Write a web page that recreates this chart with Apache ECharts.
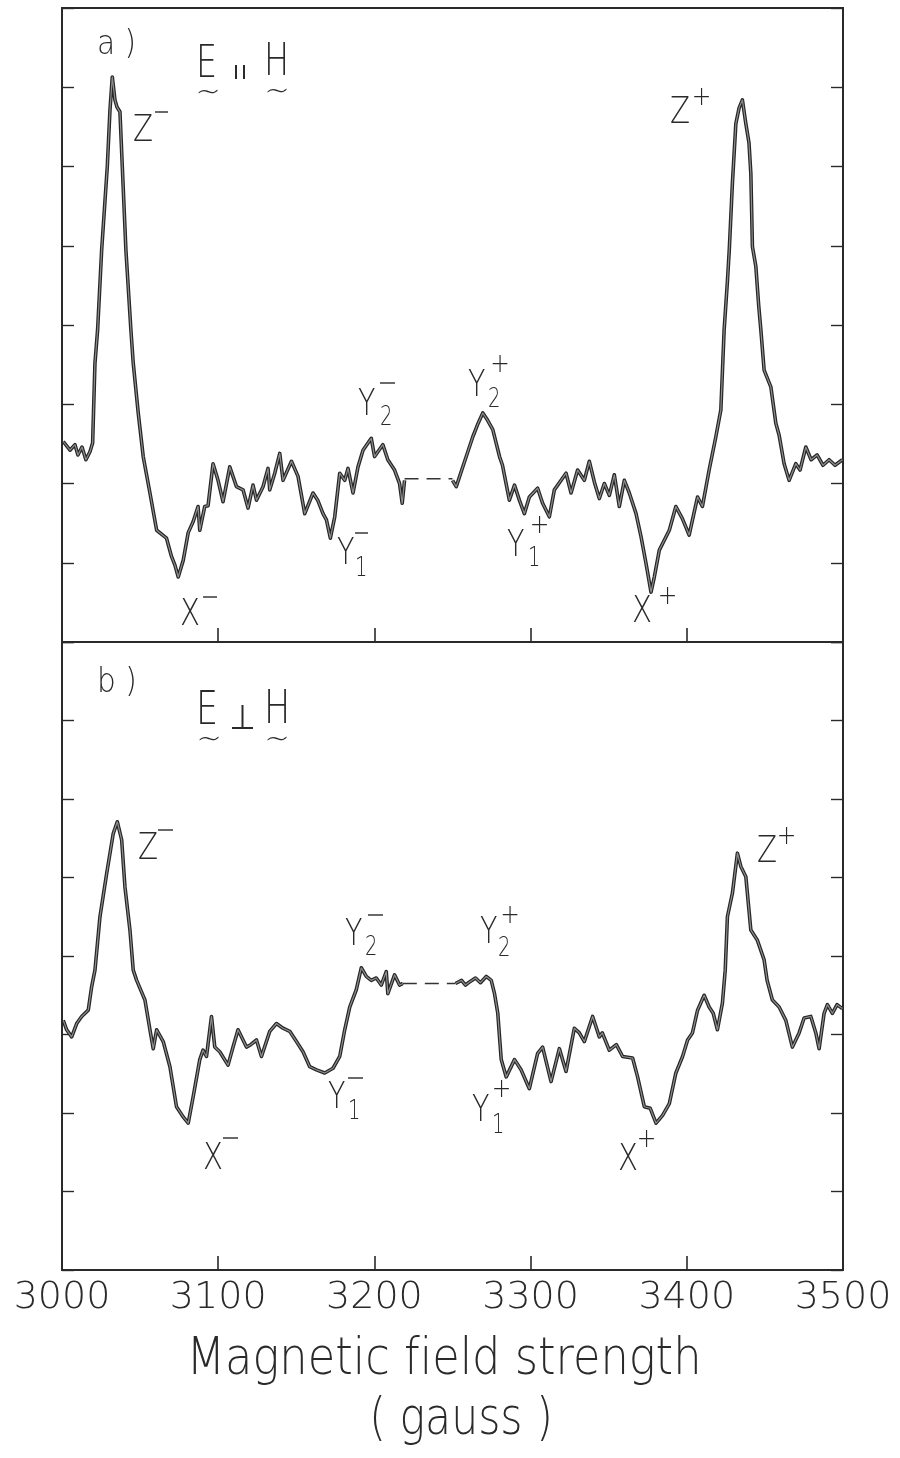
<!DOCTYPE html>
<html>
<head>
<meta charset="utf-8">
<script src="https://cdn.jsdelivr.net/npm/echarts@6/dist/echarts.min.js"></script>
<style>
  html, body { margin: 0; padding: 0; background: #fff; }
  #chart { width: 900px; height: 1458px; }
</style>
</head>
<body>
<div id="chart"></div>
<script>
// Field axis (gauss) tick labels
const fieldTicks = [3000, 3100, 3200, 3300, 3400, 3500];

// a) E parallel H : signal in tick units, low-field half
const panelA_low = [
  [3000.8,2.53],[3005.1,2.42],[3008.3,2.49],[3010.2,2.36],[3012.8,2.46],[3015.3,2.30],[3017.9,2.40],[3019.6,2.51],
  [3021.1,3.52],[3022.8,3.94],[3025.4,4.95],[3029.0,6.00],[3030.7,6.71],[3032.2,7.13],[3033.9,6.84],[3035.2,6.75],
  [3037.1,6.69],[3038.6,6.00],[3040.9,4.95],[3044.1,3.94],[3045.6,3.52],[3048.8,2.89],[3052.0,2.34],[3056.3,1.88],
  [3060.6,1.41],[3066.9,1.31],[3070.1,1.08],[3072.3,0.97],[3074.4,0.82],[3077.6,1.03],[3080.8,1.38],[3084.0,1.52],
  [3087.1,1.71],[3088.2,1.41],[3091.4,1.71],[3093.5,1.72],[3096.7,2.25],[3099.9,2.04],[3103.1,1.77],[3107.4,2.21],
  [3111.7,1.96],[3115.9,1.92],[3119.1,1.69],[3122.3,1.98],[3124.5,1.79],[3128.7,1.96],[3131.9,2.19],[3133.0,1.92],
  [3136.2,2.13],[3139.4,2.38],[3141.5,2.04],[3146.9,2.28],[3151.1,2.09],[3155.4,1.62],[3160.7,1.88],[3163.7,1.79],
  [3167.1,1.62],[3169.3,1.54],[3171.8,1.31],[3174.6,1.58],[3177.8,2.13],[3181.0,2.04],[3183.1,2.19],[3186.3,1.88],
  [3189.5,2.21],[3192.7,2.42],[3198.0,2.57],[3200.1,2.34],[3205.4,2.49],[3208.6,2.30],[3212.9,2.17],[3216.1,2.00],
  [3217.8,1.75],[3219.3,2.04]
];
// a) unrecorded stretch, drawn dashed
const panelA_gap = [[3219.3,2.06],[3250.0,2.06]];
// a) high-field half
const panelA_high = [
  [3250.0,2.04],[3252.4,1.96],[3258.8,2.34],[3263.0,2.59],[3266.0,2.74],[3269.4,2.89],[3272.4,2.80],[3275.8,2.68],
  [3280.1,2.34],[3282.0,2.23],[3283.9,2.04],[3286.4,1.79],[3289.7,1.98],[3292.8,1.79],[3296.0,1.62],[3299.2,1.83],
  [3304.5,1.94],[3307.7,1.75],[3312.0,1.58],[3315.2,1.92],[3322.7,2.13],[3325.9,1.88],[3330.1,2.17],[3334.4,2.04],
  [3337.6,2.28],[3340.8,2.02],[3344.0,1.81],[3347.2,2.00],[3350.4,1.85],[3353.6,2.11],[3356.8,1.71],[3360.0,2.04],
  [3363.2,1.88],[3367.5,1.62],[3370.7,1.33],[3373.9,0.99],[3377.1,0.63],[3379.2,0.82],[3382.4,1.16],[3388.8,1.41],
  [3393.0,1.71],[3397.1,1.56],[3401.5,1.35],[3406.9,1.83],[3410.0,1.71],[3414.3,2.17],[3418.6,2.59],[3421.8,2.93],
  [3423.9,3.94],[3426.0,4.55],[3427.2,4.95],[3429.2,5.79],[3431.4,6.54],[3433.5,6.74],[3435.6,6.84],[3437.8,6.54],
  [3439.8,6.30],[3441.0,5.91],[3442.0,4.99],[3444.2,4.74],[3446.0,4.25],[3447.4,3.94],[3449.5,3.43],[3453.8,3.22],
  [3457.0,2.76],[3459.1,2.61],[3462.3,2.25],[3465.5,2.04],[3469.8,2.25],[3472.5,2.17],[3476.2,2.46],[3479.6,2.30],
  [3483.4,2.36],[3487.2,2.23],[3491.1,2.30],[3494.9,2.23],[3499.6,2.30]
];

// b) E perpendicular H : low-field half
const panelB_low = [
  [3000.8,3.18],[3003.0,3.06],[3006.2,2.97],[3009.4,3.14],[3012.6,3.23],[3016.8,3.31],[3019.0,3.61],[3021.1,3.82],
  [3024.3,4.50],[3028.6,5.05],[3032.8,5.56],[3035.4,5.71],[3038.2,5.48],[3040.3,4.88],[3043.5,4.33],[3045.6,3.82],
  [3047.8,3.69],[3053.1,3.44],[3056.3,3.06],[3058.4,2.82],[3060.6,3.06],[3064.8,2.91],[3069.1,2.59],[3073.3,2.08],
  [3077.6,1.95],[3080.8,1.87],[3084.0,2.21],[3088.2,2.68],[3090.3,2.80],[3092.5,2.72],[3095.7,3.23],[3097.8,2.84],
  [3101.0,2.78],[3106.3,2.61],[3109.5,2.84],[3112.7,3.06],[3118.1,2.84],[3120.8,2.87],[3124.5,2.93],[3127.7,2.72],
  [3133.0,3.04],[3137.3,3.14],[3141.5,3.08],[3145.8,3.04],[3150.1,2.91],[3154.3,2.78],[3158.6,2.59],[3162.9,2.55],
  [3168.2,2.51],[3173.5,2.57],[3177.8,2.72],[3181.0,3.06],[3184.2,3.35],[3188.4,3.57],[3191.6,3.85],[3194.8,3.74],
  [3198.0,3.69],[3201.2,3.72],[3204.4,3.63],[3207.6,3.80],[3208.6,3.52],[3212.9,3.76],[3216.1,3.63],[3218.2,3.65]
];
const panelB_gap = [[3218.2,3.65],[3251.9,3.65]];
const panelB_high = [
  [3251.9,3.65],[3255.8,3.69],[3258.3,3.63],[3260.9,3.67],[3264.7,3.72],[3267.9,3.66],[3271.6,3.74],[3274.8,3.69],
  [3276.9,3.52],[3279.0,3.27],[3280.1,2.97],[3281.2,2.68],[3284.4,2.46],[3289.7,2.68],[3293.9,2.55],[3299.2,2.31],
  [3304.5,2.76],[3307.7,2.84],[3313.1,2.40],[3318.4,2.82],[3322.7,2.53],[3328.0,3.08],[3331.2,3.02],[3334.4,2.91],
  [3339.7,3.23],[3344.0,2.97],[3345.9,3.02],[3350.4,2.80],[3354.9,2.87],[3358.9,2.72],[3365.3,2.70],[3368.5,2.46],
  [3372.8,2.08],[3376.6,2.06],[3380.3,1.87],[3384.5,1.97],[3388.8,2.12],[3393.0,2.51],[3397.3,2.72],[3400.5,2.93],
  [3403.6,3.02],[3406.9,3.31],[3411.1,3.50],[3414.3,3.35],[3416.9,3.27],[3419.6,3.06],[3422.8,3.40],[3424.6,3.82],
  [3426.0,4.50],[3429.2,4.80],[3432.4,5.31],[3434.6,5.14],[3437.8,5.01],[3441.0,4.33],[3445.2,4.20],[3449.5,3.95],
  [3451.4,3.69],[3454.8,3.44],[3459.1,3.35],[3463.4,3.18],[3467.6,2.84],[3471.9,3.02],[3475.1,3.21],[3479.4,3.23],
  [3482.6,3.02],[3484.7,2.82],[3487.9,3.27],[3490.0,3.38],[3493.2,3.27],[3496.2,3.38],[3499.6,3.33]
];

const INK = '#2a2a2a';
const THIN_FONT = "'DejaVu Sans', 'Liberation Sans', sans-serif";

// text helpers for the annotations (thin lettering, narrowed with scaleX)
function txt(x, y, s, size, sx, align) {
  return {
    type: 'text', x: x, y: y, scaleX: sx || 1, z: 20,
    style: { text: s, fontSize: size, fontFamily: THIN_FONT, fontWeight: 200, fill: INK,
             align: align || 'left', verticalAlign: 'middle' }
  };
}
function plus(x, y) { return txt(x, y, '+', 26, 0.9, 'center'); }
function bar(x1, x2, y) {
  return { type: 'line', z: 20, shape: { x1: x1, y1: y, x2: x2, y2: y },
           style: { stroke: INK, lineWidth: 1.4 } };
}
function seg(x1, y1, x2, y2) {
  return { type: 'line', z: 20, shape: { x1: x1, y1: y1, x2: x2, y2: y2 },
           style: { stroke: INK, lineWidth: 2 } };
}

const annotations = [
  // panel tags and field orientation
  txt(97, 45, 'a )', 34, 0.87),
  txt(196, 66, 'E', 44, 0.76), txt(208, 93, '~', 30, 1, 'center'),
  seg(236, 65, 236, 79), seg(244, 65, 244, 79),
  txt(264, 64, 'H', 44, 0.76), txt(277, 92, '~', 30, 1, 'center'),
  txt(97, 683, 'b )', 34, 0.87),
  txt(196, 712, 'E', 46, 0.76), txt(209, 740, '~', 30, 1, 'center'),
  seg(242.5, 705, 242.5, 728), seg(232, 728, 253, 728),
  txt(264, 711, 'H', 46, 0.76), txt(277, 740, '~', 30, 1, 'center'),

  // a) peak labels
  txt(133, 131, 'Z', 38, 0.77), bar(155, 168, 112),
  txt(670, 113.5, 'Z', 38, 0.77), plus(701.5, 98.5),
  txt(180, 615, 'X', 38, 0.77), bar(203, 217, 597),
  txt(358, 405, 'Y', 38, 0.75), txt(380, 418, '2', 26, 0.75), bar(380, 395, 383),
  txt(337, 554, 'Y', 38, 0.75), txt(355, 569, '1', 26, 0.75), bar(355, 368, 533),
  txt(468, 386.5, 'Y', 38, 0.75), txt(488, 400, '2', 26, 0.75), plus(500, 365.5),
  txt(507, 546, 'Y', 38, 0.75), txt(528, 559, '1', 26, 0.75), plus(539.5, 526.5),
  txt(632, 612.5, 'X', 38, 0.77), plus(667.5, 597.5),

  // b) peak labels
  txt(138, 849, 'Z', 38, 0.77), bar(158, 173, 830),
  txt(757, 852.5, 'Z', 38, 0.77), plus(786.5, 837),
  txt(345, 935, 'Y', 38, 0.75), txt(365, 948.5, '2', 26, 0.75), bar(368, 383, 915),
  txt(480, 933.5, 'Y', 38, 0.75), txt(498, 949, '2', 26, 0.75), plus(510, 916.5),
  txt(203, 1159.5, 'X', 38, 0.77), bar(223, 238, 1138),
  txt(328, 1098.5, 'Y', 38, 0.75), txt(348, 1112.5, '1', 26, 0.75), bar(348, 363, 1078),
  txt(472, 1111.5, 'Y', 38, 0.75), txt(492, 1126.5, '1', 26, 0.75), plus(501.5, 1090.5),
  txt(618, 1160, 'X', 38, 0.77), plus(646.5, 1140.5),

  // field axis title (zero-width non-joiner keeps "f" and "i" apart)
  txt(444, 1360, 'Magnetic f\u200Cield strength', 52, 0.86, 'center'),
  txt(461, 1420, '( gauss )', 52, 0.82, 'center')
];

function xAxisFor(grid, withLabels) {
  return {
    gridIndex: grid, type: 'value', min: 3000, max: 3500, interval: 100,
    axisLine: { show: false },
    splitLine: { show: false },
    axisTick: { inside: true, length: 14, lineStyle: { color: INK, width: 1.6 } },
    axisLabel: withLabels ? {
      show: true, customValues: fieldTicks, margin: 9,
      fontSize: 38, fontFamily: THIN_FONT, fontWeight: 200, color: INK,
      formatter: function (v) { return String(v); }
    } : { show: false }
  };
}
function yAxisFor(grid, side) {
  return {
    gridIndex: grid, type: 'value', min: 0, max: 8, interval: 1, position: side,
    axisLine: { show: false },
    splitLine: { show: false },
    axisLabel: { show: false },
    axisTick: { inside: true, length: 12, lineStyle: { color: INK, width: 1.4 } }
  };
}
// trace drawn as a dark stroke with a lighter core, like pen ink
function trace(data, xi, yi) {
  return [
    { type: 'line', data: data, xAxisIndex: xi, yAxisIndex: yi, showSymbol: false, silent: true,
      lineStyle: { color: '#262626', width: 3.6, join: 'round' }, z: 3 },
    { type: 'line', data: data, xAxisIndex: xi, yAxisIndex: yi, showSymbol: false, silent: true,
      lineStyle: { color: '#8e8e8e', width: 1.2, join: 'round' }, z: 4 }
  ];
}
function gap(data, xi, yi) {
  return { type: 'line', data: data, xAxisIndex: xi, yAxisIndex: yi, showSymbol: false, silent: true,
           lineStyle: { color: '#333', width: 1.3, type: [14, 8] }, z: 3 };
}

const chart = echarts.init(document.getElementById('chart'), null, { renderer: 'canvas' });
chart.setOption({
  animation: false,
  backgroundColor: '#ffffff',
  grid: [
    { left: 62, top: 8, width: 781, height: 634, show: true, borderColor: INK, borderWidth: 2 },
    { left: 62, top: 642, width: 781, height: 628, show: true, borderColor: INK, borderWidth: 2 }
  ],
  xAxis: [xAxisFor(0, false), xAxisFor(1, true)],
  yAxis: [yAxisFor(0, 'left'), yAxisFor(0, 'right'), yAxisFor(1, 'left'), yAxisFor(1, 'right')],
  series: [].concat(
    trace(panelA_low, 0, 0), gap(panelA_gap, 0, 0), trace(panelA_high, 0, 0),
    trace(panelB_low, 1, 2), gap(panelB_gap, 1, 2), trace(panelB_high, 1, 2)
  ),
  graphic: annotations
});
</script>
</body>
</html>
